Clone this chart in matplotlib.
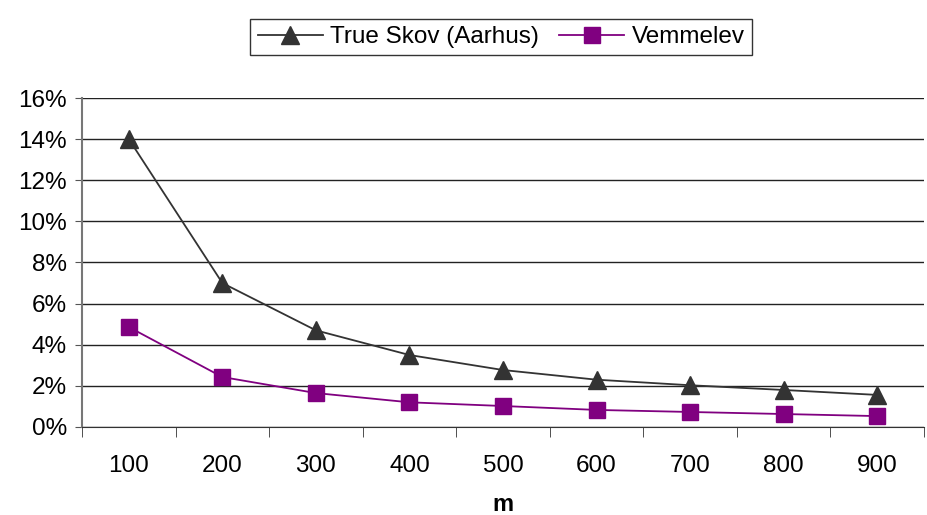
import matplotlib.pyplot as plt
from matplotlib.ticker import FuncFormatter

plt.rcParams['font.family'] = ['Liberation Sans', 'DejaVu Sans']

# afstande (m) og andele
afstand = ['100', '200', '300', '400', '500', '600', '700', '800', '900']
true_skov = [14.0, 7.0, 4.7, 3.5, 2.77, 2.3, 2.03, 1.8, 1.56]
vemmelev = [4.86, 2.43, 1.65, 1.2, 1.02, 0.83, 0.73, 0.63, 0.53]

fig = plt.figure(figsize=(9.28, 5.15), dpi=100)
ax = fig.add_axes([0.0884, 0.1709, 0.9073, 0.6388])

x = list(range(len(afstand)))
ax.plot(x, true_skov, color='#333333', linewidth=1.3, marker='^',
        markersize=13, label='True Skov (Aarhus)')
ax.plot(x, vemmelev, color='#800080', linewidth=1.3, marker='s',
        markersize=12, label='Vemmelev')

ax.set_xlim(-0.5, len(afstand) - 0.5)
ax.set_ylim(0, 16)
ax.set_yticks(range(0, 17, 2))
ax.yaxis.set_major_formatter(FuncFormatter(lambda v, p: '%d%%' % v))
ax.set_xticks(x)
ax.set_xticklabels(afstand)
ax.set_xticks([i - 0.5 for i in range(len(afstand) + 1)], minor=True)
ax.tick_params(axis='x', which='major', length=0, pad=20, labelsize=17.5)
ax.tick_params(axis='x', which='minor', length=7, direction='out', color='#333333')
ax.tick_params(axis='y', length=5, direction='out', color='#555555', labelsize=17.5, pad=6)

ax.grid(axis='y', color='#222222', linewidth=1)
ax.set_axisbelow(True)
for s in ['top', 'right']:
    ax.spines[s].set_visible(False)
ax.spines['left'].set_color('#777777')
ax.spines['left'].set_linewidth(1.5)
ax.spines['bottom'].set_color('#333333')

ax.set_xlabel('m', fontsize=17, fontweight='bold', labelpad=12)

leg = fig.legend(loc='center', bbox_to_anchor=(0.54, 0.928), ncol=2, fontsize=17.5,
                 frameon=True, fancybox=False, edgecolor='black',
                 handlelength=2.7, columnspacing=0.8, handletextpad=0.3,
                 borderpad=0.3)
leg.get_frame().set_linewidth(1)

fig.savefig('out.png', dpi=100)
